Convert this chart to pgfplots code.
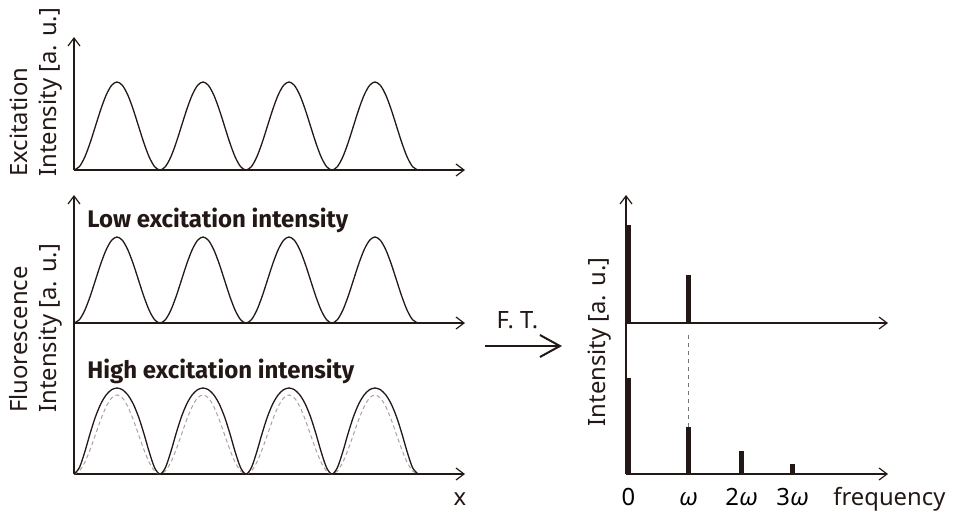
\documentclass[border=0pt]{standalone}
\usepackage{pgfplots}
\pgfplotsset{compat=1.18}
\usepackage{pgfplotstable}
\usepackage{fontspec}
\setmainfont{Noto Sans}
\newfontfamily\heavyfont{Fira Sans}
\usetikzlibrary{arrows.meta}

\definecolor{ink}{RGB}{35,24,21}
\definecolor{ghost}{RGB}{165,165,165}

% spatial profiles, x in periods of the excitation pattern
% exc: excitation (= low-intensity fluorescence), sat: saturated fluorescence,
% lin: linear response drawn dashed for comparison
\pgfplotstableread{
x      exc    sat    lin
0      0      0      0
0.0625 0.0381 0.0734 0.0351
0.125  0.1464 0.2554 0.1347
0.1875 0.3087 0.4718 0.2840
0.25   0.5    0.6667 0.4600
0.3125 0.6913 0.8175 0.6360
0.375  0.8536 0.9210 0.7853
0.4375 0.9619 0.9806 0.8849
0.5    1      1      0.92
0.5625 0.9619 0.9806 0.8849
0.625  0.8536 0.9210 0.7853
0.6875 0.6913 0.8175 0.6360
0.75   0.5    0.6667 0.4600
0.8125 0.3087 0.4718 0.2840
0.875  0.1464 0.2554 0.1347
0.9375 0.0381 0.0734 0.0351
1      0      0      0
1.0625 0.0381 0.0734 0.0351
1.125  0.1464 0.2554 0.1347
1.1875 0.3087 0.4718 0.2840
1.25   0.5    0.6667 0.4600
1.3125 0.6913 0.8175 0.6360
1.375  0.8536 0.9210 0.7853
1.4375 0.9619 0.9806 0.8849
1.5    1      1      0.92
1.5625 0.9619 0.9806 0.8849
1.625  0.8536 0.9210 0.7853
1.6875 0.6913 0.8175 0.6360
1.75   0.5    0.6667 0.4600
1.8125 0.3087 0.4718 0.2840
1.875  0.1464 0.2554 0.1347
1.9375 0.0381 0.0734 0.0351
2      0      0      0
2.0625 0.0381 0.0734 0.0351
2.125  0.1464 0.2554 0.1347
2.1875 0.3087 0.4718 0.2840
2.25   0.5    0.6667 0.4600
2.3125 0.6913 0.8175 0.6360
2.375  0.8536 0.9210 0.7853
2.4375 0.9619 0.9806 0.8849
2.5    1      1      0.92
2.5625 0.9619 0.9806 0.8849
2.625  0.8536 0.9210 0.7853
2.6875 0.6913 0.8175 0.6360
2.75   0.5    0.6667 0.4600
2.8125 0.3087 0.4718 0.2840
2.875  0.1464 0.2554 0.1347
2.9375 0.0381 0.0734 0.0351
3      0      0      0
3.0625 0.0381 0.0734 0.0351
3.125  0.1464 0.2554 0.1347
3.1875 0.3087 0.4718 0.2840
3.25   0.5    0.6667 0.4600
3.3125 0.6913 0.8175 0.6360
3.375  0.8536 0.9210 0.7853
3.4375 0.9619 0.9806 0.8849
3.5    1      1      0.92
3.5625 0.9619 0.9806 0.8849
3.625  0.8536 0.9210 0.7853
3.6875 0.6913 0.8175 0.6360
3.75   0.5    0.6667 0.4600
3.8125 0.3087 0.4718 0.2840
3.875  0.1464 0.2554 0.1347
3.9375 0.0381 0.0734 0.0351
4      0      0      0
}\profile

\pgfplotsset{
  panel/.style={
    scale only axis, axis lines=left, anchor=south west,
    xmin=0, ymin=0, xtick=\empty, ytick=\empty,
    axis line style={ink, line width=0.6pt},
    x axis line style={-{Straight Barb[length=4pt,width=6pt]}},
    y axis line style={-{Straight Barb[length=4pt,width=6pt]}},
    clip=false,
  },
  curve/.style={ink, line width=0.65pt, smooth, no marks},
  spike/.style={ycomb, ink, line width=2.5pt, no marks},
}

\begin{document}
\begin{tikzpicture}
\useasboundingbox (0,0) rectangle (478pt,255.5pt);

% excitation pattern
\begin{axis}[panel, at={(37pt,170.5pt)}, width=195.5pt, height=66.5pt,
  xmax=4.547, ymax=1.511]
\addplot[curve] table[x=x, y=exc] {\profile};
\end{axis}

% fluorescence, low excitation
\begin{axis}[panel, at={(37pt,94pt)}, width=195.5pt, height=64pt,
  xmax=4.547, ymax=1.488]
\addplot[curve] table[x=x, y=exc] {\profile};
\end{axis}

% fluorescence, high excitation (saturated)
\begin{axis}[panel, at={(37pt,18.5pt)}, width=195.5pt, height=75.5pt,
  xmax=4.547, ymax=1.756, y axis line style={-}]
\addplot[ghost, line width=0.5pt, dash pattern=on 2pt off 1.5pt, smooth, no marks]
  table[x=x, y=lin] {\profile};
\addplot[curve] table[x=x, y=sat] {\profile};
\end{axis}

% spectrum, low excitation
\begin{axis}[panel, at={(313pt,94pt)}, width=131pt, height=64pt,
  xmax=262, ymax=128]
\addplot[spike] coordinates {(2.5,98) (62.5,48)};
\end{axis}

% spectrum, high excitation
\begin{axis}[panel, at={(313pt,18.5pt)}, width=131pt, height=75.5pt,
  xmax=262, ymax=151, y axis line style={-},
  xtick={2.5,62.5,115.5,166.5},
  xticklabels={0, \textit{ω}, 2\textit{ω}, 3\textit{ω}},
  major tick length=0pt,
  xticklabel style={anchor=base, yshift=-15.5pt, font=\fontsize{11.9}{14}\selectfont}]
\addplot[ghost!70!black, line width=0.5pt, dash pattern=on 2pt off 2pt, no marks]
  coordinates {(62.5,47) (62.5,141)};
\addplot[spike] coordinates {(2.5,96) (62.5,47) (115.5,23) (166.5,10)};
\end{axis}

\begin{scope}[every node/.style={inner sep=0pt, text=ink}]
\node[rotate=90, anchor=west, align=left, font=\fontsize{11.9}{14.5}\selectfont]
  at (18pt,167pt) {Excitation\\Intensity [a. u.]};
\node[rotate=90, anchor=west, align=left, font=\fontsize{11.9}{14.5}\selectfont]
  at (18pt,49pt) {Fluorescence\\Intensity [a. u.]};
\node[rotate=90, font=\fontsize{11.9}{14}\selectfont] at (300pt,84.5pt) {Intensity [a. u.]};
\node[anchor=base west, font=\fontsize{12}{14}\selectfont\heavyfont\bfseries]
  at (43.5pt,142pt) {Low excitation intensity};
\node[anchor=base west, font=\fontsize{12}{14}\selectfont\heavyfont\bfseries]
  at (43.5pt,66.5pt) {High excitation intensity};
\node[anchor=base, font=\fontsize{11.9}{14}\selectfont] at (230pt,3pt) {x};
\node[anchor=base west, font=\fontsize{11.9}{14}\selectfont] at (416.5pt,3pt) {frequency};
\node[anchor=base, font=\fontsize{11.9}{14}\selectfont] at (258.75pt,91.5pt) {F. T.};
\end{scope}
\draw[ink, line width=1pt, -{Straight Barb[length=10pt,width=11pt]}]
  (242.5pt,82.5pt) -- (281pt,82.5pt);
\end{tikzpicture}
\end{document}
